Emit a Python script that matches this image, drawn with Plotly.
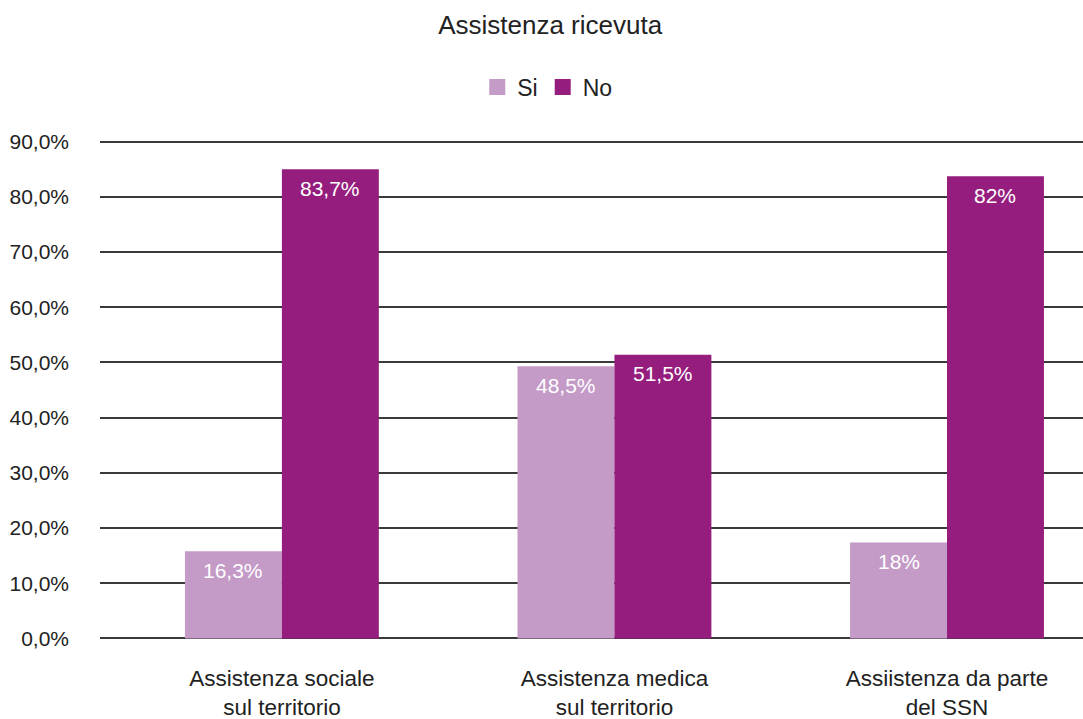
import plotly.graph_objects as go

categories = ["Assistenza sociale<br>sul territorio", "Assistenza medica<br>sul territorio", "Assiistenza da parte<br>del SSN"]
si_values = [15.8, 49.3, 17.4]
no_values = [85.0, 51.4, 83.7]
si_labels = ["16,3%", "48,5%", "18%"]
no_labels = ["83,7%", "51,5%", "82%"]
y_ticks = [0, 10, 20, 30, 40, 50, 60, 70, 80, 90]
y_ticktext = ["0,0%", "10,0%", "20,0%", "30,0%", "40,0%", "50,0%", "60,0%", "70,0%", "80,0%", "90,0%"]

SI_COLOR = "#C49AC7"
NO_COLOR = "#951D7D"
FONT = "Liberation Sans, Arial, sans-serif"
BAR_W = 0.2915

x_idx = list(range(len(categories)))

fig = go.Figure()
fig.add_trace(go.Bar(x=x_idx, y=si_values, name="Si", marker_color=SI_COLOR, marker_line_width=0,
                     width=BAR_W, offset=-BAR_W, showlegend=False))
fig.add_trace(go.Bar(x=x_idx, y=no_values, name="No", marker_color=NO_COLOR, marker_line_width=0,
                     width=BAR_W, offset=0, showlegend=False))
# legend proxies
fig.add_trace(go.Scatter(x=[None], y=[None], mode="markers", name="Si",
                         marker=dict(symbol="square", size=20, color=SI_COLOR)))
fig.add_trace(go.Scatter(x=[None], y=[None], mode="markers", name="No",
                         marker=dict(symbol="square", size=20, color=NO_COLOR)))

for i in x_idx:
    fig.add_annotation(x=i - BAR_W / 2, y=si_values[i], xref="x", yref="y", text=si_labels[i],
                       showarrow=False, yshift=-19, yanchor="middle",
                       font=dict(color="white", size=21, family=FONT))
    fig.add_annotation(x=i + BAR_W / 2, y=no_values[i], xref="x", yref="y", text=no_labels[i],
                       showarrow=False, yshift=-19, yanchor="middle",
                       font=dict(color="white", size=21, family=FONT))

fig.update_layout(
    width=1083, height=719,
    margin=dict(l=100, r=0, t=136, b=75, autoexpand=False),
    paper_bgcolor="white", plot_bgcolor="white",
    font=dict(family=FONT, color="#222222", size=21),
    title=dict(text="Assistenza ricevuta", x=0.508, xanchor="center", y=0.965, yanchor="middle",
               font=dict(size=26, color="#222222", family=FONT)),
    barmode="overlay",
    legend=dict(orientation="h", x=0.455, xanchor="center", y=1.0965, yanchor="middle",
                font=dict(size=23, color="#222222"), itemwidth=30, traceorder="normal",
                tracegroupgap=0),
    xaxis=dict(tickmode="array", tickvals=x_idx, ticktext=categories, range=[-0.547, 2.409],
               showgrid=False, zeroline=False, showline=False, ticks="", automargin=False,
               tickfont=dict(size=22.5, color="#222222"), ticklabelstandoff=18),
    yaxis=dict(range=[-1, 91], tickmode="array", tickvals=y_ticks, ticktext=y_ticktext,
               showgrid=True, gridcolor="#3a3a3a", gridwidth=1.5, zeroline=False,
               showline=False, ticks="", automargin=False, tickfont=dict(size=21, color="#222222"),
               ticklabelstandoff=30),
)

fig.write_html("out.html")
